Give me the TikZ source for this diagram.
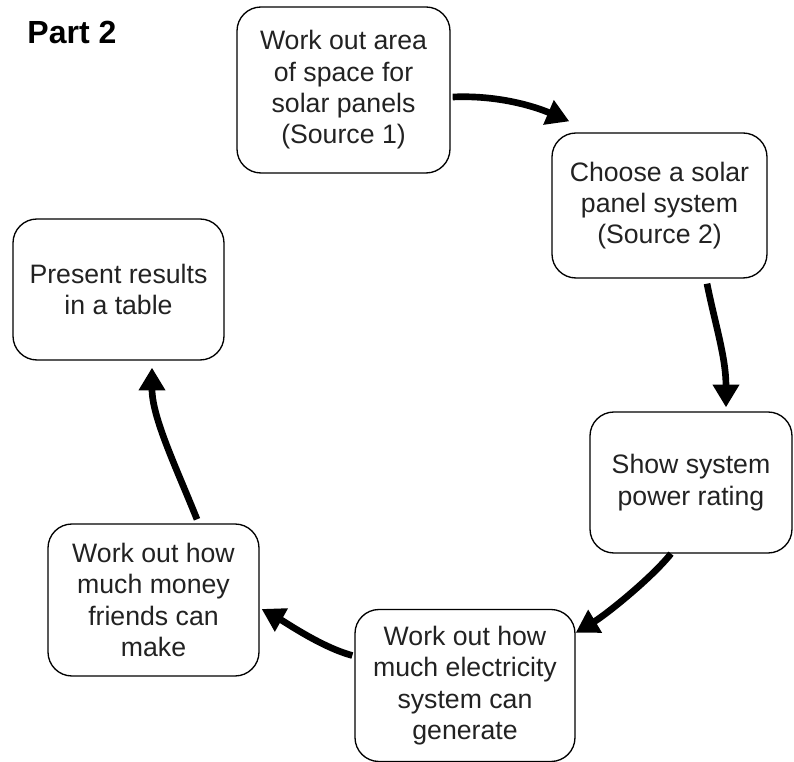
\documentclass[tikz,border=0pt]{standalone}
\usepackage{fontspec}
\setmainfont{Liberation Sans}
\usetikzlibrary{arrows.meta}

\tikzset{every picture/.style={line width=0.75pt}}
\tikzset{
  roundbox/.style={draw, line width=1pt, rounded corners=18pt, align=center, inner sep=0.75pt, text={rgb,255:red,34;green,34;blue,34}, font=\fontsize{20}{23.5}\selectfont},
  flowarrow/.style={line width=5pt, -{Triangle[length=17pt,width=19pt]}}
}

\begin{document}
\begin{tikzpicture}[x=0.75pt,y=0.75pt,yscale=-1,xscale=1]
\useasboundingbox (0,0) rectangle (794,762);

% Text Node
\node [anchor=base west, inner sep=0.75pt, font=\bfseries\fontsize{24}{28}\selectfont] (title) at (26,44) {Part 2};

%Shape: Rounded Rect
\node [roundbox, minimum width=159.75pt, minimum height=124.5pt] (area) at (343.5,90) {Work out area\\of space for\\solar panels\\(Source 1)};
%Shape: Rounded Rect
\node [roundbox, minimum width=161.25pt, minimum height=108.75pt] (choose) at (659.5,205.5) {Choose a solar\\panel system\\(Source 2)};
%Shape: Rounded Rect
\node [roundbox, minimum width=151.5pt, minimum height=105.75pt] (rating) at (691,482.5) {Show system\\power rating};
%Shape: Rounded Rect
\node [roundbox, minimum width=165pt, minimum height=114pt] (electricity) at (465,685.5) {Work out how\\much electricity\\system can\\generate};
%Shape: Rounded Rect
\node [roundbox, minimum width=158.25pt, minimum height=114pt] (money) at (153.5,600) {Work out how\\much money\\friends can\\make};
%Shape: Rounded Rect
\node [roundbox, minimum width=158.25pt, minimum height=105.75pt] (results) at (118.5,289.5) {Present results\\in a table};

%Curve Lines
\draw [flowarrow] ([shift={(2,7)}]area.east) .. controls +(45,-2) and +(-35,-15) .. ([shift={(18,-11)}]choose.north west);
%Curve Lines
\draw [flowarrow] ([shift={(47.5,5)}]choose.south) .. controls +(8,40) and +(0,-50) .. ([shift={(35,-4)}]rating.north);
%Curve Lines
\draw [flowarrow] ([shift={(-20,0)}]rating.south) .. controls +(-20,25) and +(30,-18) .. ([shift={(0,24)}]electricity.north east);
%Curve Lines
\draw [flowarrow] ([shift={(-2,-30)}]electricity.west) .. controls +(-30,-8) and +(25,14) .. ([shift={(2,9)}]money.east);
%Curve Lines
\draw [flowarrow] ([shift={(43.5,-4)}]money.north) .. controls +(-20,-50) and +(0,50) .. ([shift={(33.5,7)}]results.south);

\end{tikzpicture}
\end{document}
